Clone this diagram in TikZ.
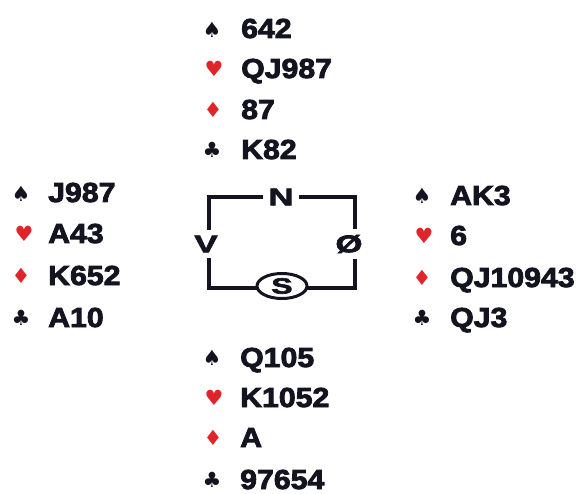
\documentclass[tikz,border=0pt]{standalone}
\usepackage{fontspec}
\usetikzlibrary{shapes.geometric}
\setmainfont{Liberation Sans}[FakeStretch=1.1]
\newfontfamily\cardfont{Liberation Sans Bold}[FakeStretch=1.1, FakeBold=3]
\newfontfamily\dirfont{Liberation Sans Bold}[FakeStretch=1.45, FakeBold=3]
\newfontfamily\suitfont{DejaVu Sans}
\definecolor{ink}{HTML}{141420}
\definecolor{suitred}{HTML}{E0242A}
\begin{document}
\begin{tikzpicture}[x=1pt,y=-1pt,
  card/.style={anchor=west, font=\fontsize{27.5}{30}\cardfont, text=ink,
    inner sep=0pt, text height=20pt, text depth=0pt},
  suit/.style={font=\fontsize{21}{21}\suitfont, inner sep=0pt},
  blk/.style={suit, text=ink},
  rd/.style={suit, text=suitred},
  dirlbl/.style={font=\fontsize{24}{24}\dirfont, fill=white, text=ink,
    inner xsep=5pt, inner ysep=6pt},
  frame/.style={draw=ink, line width=3.2pt}]
\useasboundingbox (0,0) rectangle (583,494);
% North
\node[blk] (ns) at (212,30) {♠};  \node[card] (nst) at (241,28) {642};
\node[rd]  (nh) at (214,69) {♥};  \node[card] (nht) at (241,68) {QJ987};
\node[rd]  (nd) at (213,110) {♦}; \node[card] (ndt) at (241,109) {87};
\node[blk] (nc) at (212,150) {♣}; \node[card] (nct) at (241,149) {K82};
% West
\node[blk] (ws) at (21,194) {♠};  \node[card] (wst) at (48,192) {J987};
\node[rd]  (wh) at (24,234) {♥};  \node[card] (wht) at (48,233) {A43};
\node[rd]  (wd) at (21,276) {♦};  \node[card] (wdt) at (48,275) {K652};
\node[blk] (wc) at (21,318) {♣};  \node[card] (wct) at (48,317) {A10};
% East
\node[blk] (es) at (422,196) {♠}; \node[card] (est) at (450,195) {AK3};
\node[rd]  (eh) at (424,236) {♥}; \node[card] (eht) at (450,235) {6};
\node[rd]  (ed) at (422,278) {♦}; \node[card] (edt) at (450,277) {QJ10943};
\node[blk] (ec) at (422,318) {♣}; \node[card] (ect) at (450,317) {QJ3};
% South
\node[blk] (ss) at (212,358) {♠}; \node[card] (sst) at (240,357) {Q105};
\node[rd]  (sh) at (214,398) {♥}; \node[card] (sht) at (240,397) {K1052};
\node[rd]  (sd) at (213,438) {♦}; \node[card] (sdt) at (240,437) {A};
\node[blk] (sc) at (212,480) {♣}; \node[card] (sct) at (240,479) {97654};
% Compass frame
\coordinate (fnw) at (209,197);
\coordinate (fse) at (355,288);
\draw[frame] (fnw) rectangle (fse);
\node[dirlbl] (dN) at (281,197) {N};
\node[dirlbl, inner xsep=2pt] (dV) at (206,244) {V};
\node[dirlbl, inner xsep=2pt] (dO) at (349,244) {Ø};
\node[dirlbl, font=\fontsize{22}{22}\dirfont, draw=ink, line width=3pt, ellipse,
  inner xsep=1pt, inner ysep=0pt, minimum width=50pt, minimum height=25pt] (dS) at (282,286) {S};
\end{tikzpicture}
\end{document}
